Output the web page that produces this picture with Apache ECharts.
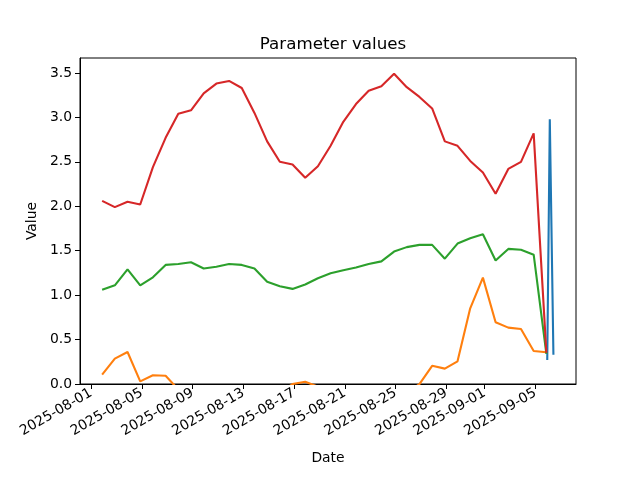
<!DOCTYPE html>
<html>
<head>
<meta charset="utf-8">
<script src="https://cdn.jsdelivr.net/npm/echarts@6/dist/echarts.min.js"></script>
<style>html,body{margin:0;padding:0;background:#fff}#c{width:640px;height:480px}</style>
</head>
<body>
<div id="c"></div>
<script>
const dailyDates = [
  '2025-08-01T21:00:00Z','2025-08-02T21:00:00Z','2025-08-03T21:00:00Z','2025-08-04T21:00:00Z',
  '2025-08-05T21:00:00Z','2025-08-06T21:00:00Z','2025-08-07T21:00:00Z','2025-08-08T21:00:00Z',
  '2025-08-09T21:00:00Z','2025-08-10T21:00:00Z','2025-08-11T21:00:00Z','2025-08-12T21:00:00Z',
  '2025-08-13T21:00:00Z','2025-08-14T21:00:00Z','2025-08-15T21:00:00Z','2025-08-16T21:00:00Z',
  '2025-08-17T21:00:00Z','2025-08-18T21:00:00Z','2025-08-19T21:00:00Z','2025-08-20T21:00:00Z',
  '2025-08-21T21:00:00Z','2025-08-22T21:00:00Z','2025-08-23T21:00:00Z','2025-08-24T21:00:00Z',
  '2025-08-25T21:00:00Z','2025-08-26T21:00:00Z','2025-08-27T21:00:00Z','2025-08-28T21:00:00Z',
  '2025-08-29T21:00:00Z','2025-08-30T21:00:00Z','2025-08-31T21:00:00Z','2025-09-01T21:00:00Z',
  '2025-09-02T21:00:00Z','2025-09-03T21:00:00Z','2025-09-04T21:00:00Z','2025-09-05T21:00:00Z'
];
const redValues = [2.06,1.99,2.05,2.02,2.44,2.77,3.04,3.08,3.27,3.38,3.41,3.33,3.05,2.73,2.50,2.47,2.32,2.45,2.68,2.95,3.15,3.30,3.35,3.49,3.34,3.23,3.10,2.73,2.68,2.51,2.38,2.14,2.42,2.50,2.82,0.35];
const greenValues = [1.06,1.11,1.29,1.11,1.20,1.34,1.35,1.37,1.30,1.32,1.35,1.34,1.30,1.15,1.10,1.07,1.12,1.19,1.245,1.28,1.31,1.35,1.38,1.49,1.54,1.565,1.565,1.41,1.58,1.64,1.685,1.39,1.52,1.51,1.455,0.34];
const orangeValues = [0.105,0.285,0.36,0.03,0.098,0.093,-0.062,-0.15,-0.25,-0.3,-0.35,-0.3,-0.25,-0.2,-0.1,-0.001,0.026,-0.03,-0.1,-0.2,-0.3,-0.35,-0.3,-0.2,-0.1,-0.001,0.205,0.173,0.255,0.852,1.197,0.695,0.634,0.619,0.372,0.357];
const blueDates = ['2025-09-05T22:40:00Z','2025-09-06T03:30:00Z','2025-09-06T10:20:00Z'];
const blueValues = [0.27, 2.98, 0.33];
const xTickLabels = ['2025-08-01','2025-08-05','2025-08-09','2025-08-13','2025-08-17','2025-08-21','2025-08-25','2025-08-29','2025-09-01','2025-09-05'];
const yTicks = [0.0,0.5,1.0,1.5,2.0,2.5,3.0,3.5];
const xMin = '2025-07-31T03:07:00Z';
const xMax = '2025-09-08T05:02:00Z';
const yMax = 3.668;

const t = s => Date.parse(s);
const pairs = (ds, vs) => ds.map((d, i) => [t(d), vs[i]]);
const xTicks = xTickLabels.map(s => Date.parse(s + 'T00:00:00Z'));
const pad = n => (n < 10 ? '0' : '') + n;
const fmtDate = v => { const d = new Date(v); return d.getUTCFullYear() + '-' + pad(d.getUTCMonth() + 1) + '-' + pad(d.getUTCDate()); };
const font = 'DejaVu Sans';

const chart = echarts.init(document.getElementById('c'), null, {renderer: 'canvas'});
const lineStyle = c => ({color: c, width: 2.1});
chart.setOption({
  animation: false,
  backgroundColor: '#fff',
  title: {text: 'Parameter values', left: 328, top: 31, textAlign: 'center',
    textStyle: {fontFamily: font, fontSize: 16.7, fontWeight: 'normal', color: '#000'}},
  grid: {left: 80, right: 64, top: 58, bottom: 96, show: true, borderColor: '#000', borderWidth: 1, backgroundColor: 'transparent'},
  xAxis: {
    type: 'value', min: t(xMin), max: t(xMax), scale: true,
    name: 'Date', nameLocation: 'middle', nameGap: 67,
    nameTextStyle: {fontFamily: font, fontSize: 13.9, color: '#000'},
    axisLine: {show: true, onZero: false, lineStyle: {color: '#000', width: 1}},
    axisTick: {show: true, length: 5, lineStyle: {color: '#000', width: 1}, customValues: xTicks},
    axisLabel: {customValues: xTicks, rotate: 30, margin: 8, fontFamily: font, fontSize: 13.9, color: '#000', formatter: v => fmtDate(v)},
    splitLine: {show: false}
  },
  yAxis: {
    type: 'value', min: 0, max: yMax,
    name: 'Value', nameLocation: 'middle', nameGap: 37,
    nameTextStyle: {fontFamily: font, fontSize: 13.9, color: '#000'},
    axisLine: {show: true, lineStyle: {color: '#000', width: 1}},
    axisTick: {show: true, length: 5, lineStyle: {color: '#000', width: 1}, customValues: yTicks},
    axisLabel: {customValues: yTicks, margin: 8, fontFamily: font, fontSize: 13.9, color: '#000', formatter: v => v.toFixed(1)},
    splitLine: {show: false}
  },
  series: [
    {type: 'line', data: pairs(blueDates, blueValues), showSymbol: false, lineStyle: lineStyle('#1f77b4'), clip: true},
    {type: 'line', data: pairs(dailyDates, orangeValues), showSymbol: false, lineStyle: lineStyle('#ff7f0e'), clip: true},
    {type: 'line', data: pairs(dailyDates, greenValues), showSymbol: false, lineStyle: lineStyle('#2ca02c'), clip: true},
    {type: 'line', data: pairs(dailyDates, redValues), showSymbol: false, lineStyle: lineStyle('#d62728'), clip: true}
  ]
});
</script>
</body>
</html>
